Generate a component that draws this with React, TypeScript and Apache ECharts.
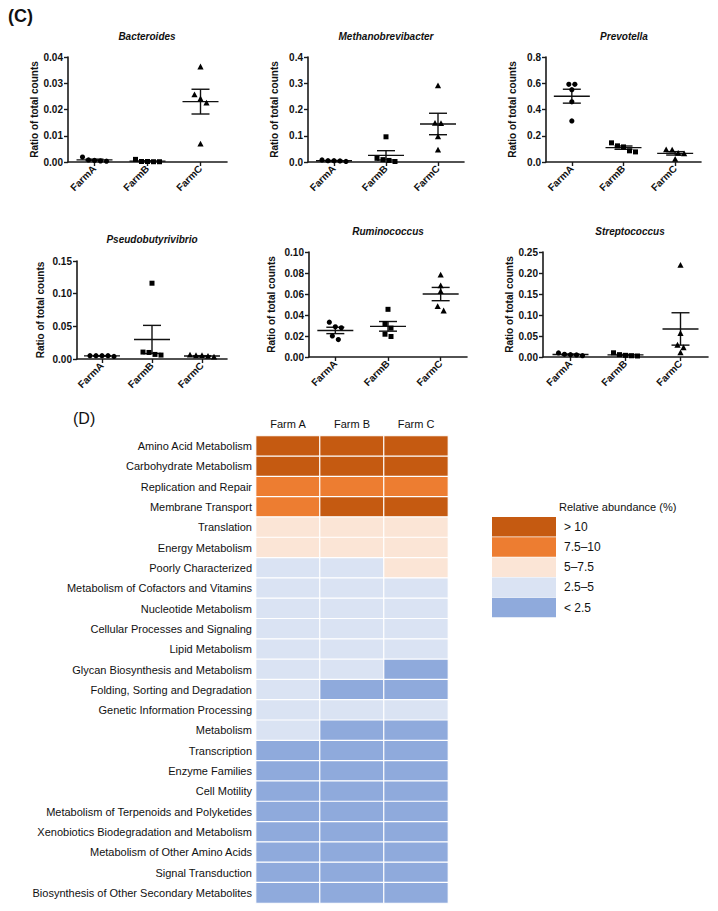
import React, { useEffect, useRef } from 'react';
import * as echarts from 'echarts';

const FONT = 'Arial, "Liberation Sans", Helvetica, sans-serif';

// ---------- (C) scatter dot plots ----------
const farmLabels = ['FarmA', 'FarmB', 'FarmC'];

const bacteroides = [
  [0.0019, 0.0006, 0.0003, 0.0004, 0.0008],
  [0.001, 0.0002, 0.0001, 0.0001, 0.0002],
  [0.0362, 0.0256, 0.024, 0.0224, 0.0068],
];
const methanobrevibacter = [
  [0.008, 0.005, 0.002, 0.004, 0.005],
  [0.096, 0.009, 0.002, 0.006, 0.014],
  [0.29, 0.146, 0.147, 0.096, 0.045],
];
const prevotella = [
  [0.592, 0.592, 0.551, 0.459, 0.313],
  [0.146, 0.123, 0.115, 0.085, 0.077],
  [0.092, 0.09, 0.066, 0.062, 0.02],
];
const pseudobutyrivibrio = [
  [0.005, 0.005, 0.004, 0.005, 0.005],
  [0.116, 0.0106, 0.007, 0.006, 0.01],
  [0.006, 0.005, 0.004, 0.003, 0.005],
];
const ruminococcus = [
  [0.0288, 0.0278, 0.0332, 0.0201, 0.0166],
  [0.0454, 0.0319, 0.0275, 0.0217, 0.0195],
  [0.078, 0.0677, 0.0623, 0.0479, 0.0438],
];
const streptococcus = [
  [0.0096, 0.005, 0.003, 0.0056, 0.0064],
  [0.01, 0.004, 0.0024, 0.003, 0.0056],
  [0.218, 0.056, 0.028, 0.022, 0.01],
];

const genusNames = ['Bacteroides', 'Methanobrevibacter', 'Prevotella', 'Pseudobutyrivibrio', 'Ruminococcus', 'Streptococcus'];
const genusData = [bacteroides, methanobrevibacter, prevotella, pseudobutyrivibrio, ruminococcus, streptococcus];
const yMax = [0.04, 0.4, 0.8, 0.15, 0.1, 0.25];
const yInterval = [0.01, 0.1, 0.2, 0.05, 0.02, 0.05];
const yDecimals = [2, 1, 1, 2, 2, 2];

// layout (positions only)
const panelLayout = [
  { grid: { left: 68, top: 57, width: 159, height: 105 }, title: [147, 36], nameGap: 29 },
  { grid: { left: 308, top: 57, width: 156, height: 105 }, title: [386, 36], nameGap: 29 },
  { grid: { left: 546, top: 57, width: 155, height: 105 }, title: [624, 36], nameGap: 29 },
  { grid: { left: 77, top: 261, width: 150, height: 98 }, title: [152, 239], nameGap: 32 },
  { grid: { left: 309, top: 252, width: 158, height: 105 }, title: [388, 231], nameGap: 33 },
  { grid: { left: 543, top: 252, width: 165, height: 105 }, title: [630, 231], nameGap: 26 },
];

// ---------- (D) heatmap ----------
const heatFarms = ['Farm A', 'Farm B', 'Farm C'];
const pathways = [
  'Amino Acid Metabolism',
  'Carbohydrate Metabolism',
  'Replication and Repair',
  'Membrane Transport',
  'Translation',
  'Energy Metabolism',
  'Poorly Characterized',
  'Metabolism of Cofactors and Vitamins',
  'Nucleotide Metabolism',
  'Cellular Processes and Signaling',
  'Lipid Metabolism',
  'Glycan Biosynthesis and Metabolism',
  'Folding, Sorting and Degradation',
  'Genetic Information Processing',
  'Metabolism',
  'Transcription',
  'Enzyme Families',
  'Cell Motility',
  'Metabolism of Terpenoids and Polyketides',
  'Xenobiotics Biodegradation and Metabolism',
  'Metabolism of Other Amino Acids',
  'Signal Transduction',
  'Biosynthesis of Other Secondary Metabolites',
];
// abundance class: 0 = <2.5, 1 = 2.5–5, 2 = 5–7.5, 3 = 7.5–10, 4 = >10
const levelFarmA = [4, 4, 3, 3, 2, 2, 1, 1, 1, 1, 1, 1, 1, 1, 1, 0, 0, 0, 0, 0, 0, 0, 0];
const levelFarmB = [4, 4, 3, 4, 2, 2, 1, 1, 1, 1, 1, 1, 0, 1, 0, 0, 0, 0, 0, 0, 0, 0, 0];
const levelFarmC = [4, 4, 3, 4, 2, 2, 2, 1, 1, 1, 1, 0, 0, 1, 0, 0, 0, 0, 0, 0, 0, 0, 0];
const levelLabels = ['< 2.5', '2.5–5', '5–7.5', '7.5–10', '> 10'];
const levelColors = ['#8FAADC', '#DAE3F3', '#FBE5D6', '#ED7D31', '#C55A11'];

const AXIS_COLOR = '#1a1a1a';

function makeRenderItem(values: number[][]) {
  return (params: any, api: any) => {
    const i = params.dataIndex;
    const vals = values[i];
    const n = vals.length;
    const mean = vals.reduce((a, b) => a + b, 0) / n;
    const sd = Math.sqrt(vals.reduce((a, b) => a + (b - mean) * (b - mean), 0) / (n - 1));
    const sem = sd / Math.sqrt(n);
    const c = api.coord([i, mean]);
    const cx = c[0];
    const my = c[1];
    const yt = api.coord([i, mean + sem])[1];
    const yb = api.coord([i, mean - sem])[1];
    const ls = { stroke: '#111', lineWidth: 1.4, fill: null };
    const children: any[] = [
      { type: 'line', shape: { x1: cx - 18, y1: my, x2: cx + 18, y2: my }, style: ls },
      { type: 'line', shape: { x1: cx, y1: yt, x2: cx, y2: yb }, style: ls },
      { type: 'line', shape: { x1: cx - 9, y1: yt, x2: cx + 9, y2: yt }, style: ls },
      { type: 'line', shape: { x1: cx - 9, y1: yb, x2: cx + 9, y2: yb }, style: ls },
    ];
    // beeswarm-like horizontal spreading of overlapping points
    const pts = vals.map((v) => ({ v, y: api.coord([i, v])[1] })).sort((a, b) => a.y - b.y);
    const clusters: { v: number; y: number }[][] = [];
    pts.forEach((p) => {
      const last = clusters[clusters.length - 1];
      if (last && Math.abs(p.y - last[last.length - 1].y) < 5) last.push(p);
      else clusters.push([p]);
    });
    const step = 6;
    clusters.forEach((cl) => {
      const m = cl.length;
      cl.forEach((p, k) => {
        const x = cx + (k - (m - 1) / 2) * step;
        const y = p.y;
        if (i === 0) {
          children.push({ type: 'circle', shape: { cx: x, cy: y, r: 2.6 }, style: { fill: '#000' } });
        } else if (i === 1) {
          children.push({ type: 'rect', shape: { x: x - 2.5, y: y - 2.5, width: 5, height: 5 }, style: { fill: '#000' } });
        } else {
          children.push({
            type: 'polygon',
            shape: { points: [[x, y - 3.4], [x - 3.1, y + 2.4], [x + 3.1, y + 2.4]] },
            style: { fill: '#000' },
          });
        }
      });
    });
    return { type: 'group', children };
  };
}

export default function App() {
  const ref = useRef<HTMLDivElement>(null);

  useEffect(() => {
    if (!ref.current) return;
    const chart = echarts.init(ref.current, undefined, { renderer: 'svg' });

    const grids: any[] = [];
    const xAxes: any[] = [];
    const yAxes: any[] = [];
    const series: any[] = [];
    const graphics: any[] = [];

    genusData.forEach((data, k) => {
      const lay = panelLayout[k];
      grids.push({ ...lay.grid, containLabel: false });
      xAxes.push({
        type: 'category',
        gridIndex: k,
        data: farmLabels,
        boundaryGap: true,
        axisLine: { show: true, onZero: false, lineStyle: { color: AXIS_COLOR, width: 1.6 } },
        axisTick: { show: true, alignWithLabel: true, length: 4, lineStyle: { color: AXIS_COLOR, width: 1.4 } },
        axisLabel: { rotate: 45, fontFamily: FONT, fontWeight: 'bold', fontSize: 10, color: '#111', margin: 5 },
        splitLine: { show: false },
      });
      const dec = yDecimals[k];
      yAxes.push({
        type: 'value',
        gridIndex: k,
        min: 0,
        max: yMax[k],
        interval: yInterval[k],
        name: 'Ratio of total counts',
        nameLocation: 'middle',
        nameGap: lay.nameGap,
        nameRotate: 90,
        nameTextStyle: { fontFamily: FONT, fontWeight: 'bold', fontSize: 10, color: '#111' },
        axisLine: { show: true, lineStyle: { color: AXIS_COLOR, width: 1.6 } },
        axisTick: { show: true, length: 4, lineStyle: { color: AXIS_COLOR, width: 1.4 } },
        axisLabel: {
          fontFamily: FONT,
          fontWeight: 'bold',
          fontSize: 10,
          color: '#111',
          margin: 5,
          formatter: (v: number) => v.toFixed(dec),
        },
        splitLine: { show: false },
      });
      series.push({
        type: 'custom',
        xAxisIndex: k,
        yAxisIndex: k,
        coordinateSystem: 'cartesian2d',
        clip: false,
        silent: true,
        data: data.map((vals, i) => [i, vals.reduce((a, b) => a + b, 0) / vals.length]),
        encode: { x: 0, y: 1 },
        renderItem: makeRenderItem(data),
      });
      graphics.push({
        type: 'text',
        x: lay.title[0],
        y: lay.title[1],
        style: {
          text: genusNames[k],
          fontFamily: FONT,
          fontStyle: 'italic',
          fontWeight: 'bold',
          fontSize: 10,
          fill: '#111',
          align: 'center',
          verticalAlign: 'middle',
        },
      });
    });

    // heatmap
    const hIdx = genusData.length;
    grids.push({ left: 256, top: 436, width: 192, height: 467, containLabel: false });
    xAxes.push({
      type: 'category',
      gridIndex: hIdx,
      position: 'top',
      data: heatFarms,
      axisLine: { show: false },
      axisTick: { show: false },
      axisLabel: { fontFamily: FONT, fontSize: 11, color: '#111', margin: 7 },
      splitArea: { show: false },
      splitLine: { show: false },
    });
    yAxes.push({
      type: 'category',
      gridIndex: hIdx,
      inverse: true,
      data: pathways,
      axisLine: { show: false },
      axisTick: { show: false },
      axisLabel: { fontFamily: FONT, fontSize: 11, color: '#111', margin: 4 },
      splitArea: { show: false },
      splitLine: { show: false },
    });
    const heatData: number[][] = [];
    [levelFarmA, levelFarmB, levelFarmC].forEach((levels, xi) => {
      levels.forEach((lv, yi) => heatData.push([xi, yi, lv]));
    });
    series.push({
      type: 'heatmap',
      xAxisIndex: hIdx,
      yAxisIndex: hIdx,
      data: heatData,
      itemStyle: { borderColor: '#ffffff', borderWidth: 1.2 },
      emphasis: { disabled: true },
      silent: true,
    });

    graphics.push(
      {
        type: 'text',
        x: 8,
        y: 16,
        style: { text: '(C)', fontFamily: FONT, fontWeight: 'bold', fontSize: 18, fill: '#111', verticalAlign: 'middle' },
      },
      {
        type: 'text',
        x: 73,
        y: 418,
        style: { text: '(D)', fontFamily: FONT, fontSize: 16, fill: '#111', verticalAlign: 'middle' },
      },
      {
        type: 'text',
        x: 559,
        y: 507,
        style: { text: 'Relative abundance (%)', fontFamily: FONT, fontSize: 11, fill: '#111', verticalAlign: 'middle' },
      }
    );

    chart.setOption({
      animation: false,
      backgroundColor: '#ffffff',
      grid: grids,
      xAxis: xAxes,
      yAxis: yAxes,
      series,
      graphic: graphics,
      visualMap: {
        type: 'piecewise',
        seriesIndex: hIdx,
        dimension: 2,
        orient: 'vertical',
        align: 'left',
        left: 492,
        top: 517,
        padding: 0,
        itemWidth: 64,
        itemHeight: 19.5,
        itemGap: 0.7,
        itemSymbol: 'rect',
        textGap: 8,
        selectedMode: false,
        hoverLink: false,
        textStyle: { fontFamily: FONT, fontSize: 12, color: '#111' },
        pieces: levelLabels.map((label, v) => ({ value: v, label, color: levelColors[v] })),
      },
    });

    return () => chart.dispose();
  }, []);

  return (
    <div
      ref={ref}
      style={{ position: 'fixed', left: 0, top: 0, width: 718, height: 911, background: '#fff' }}
    />
  );
}
